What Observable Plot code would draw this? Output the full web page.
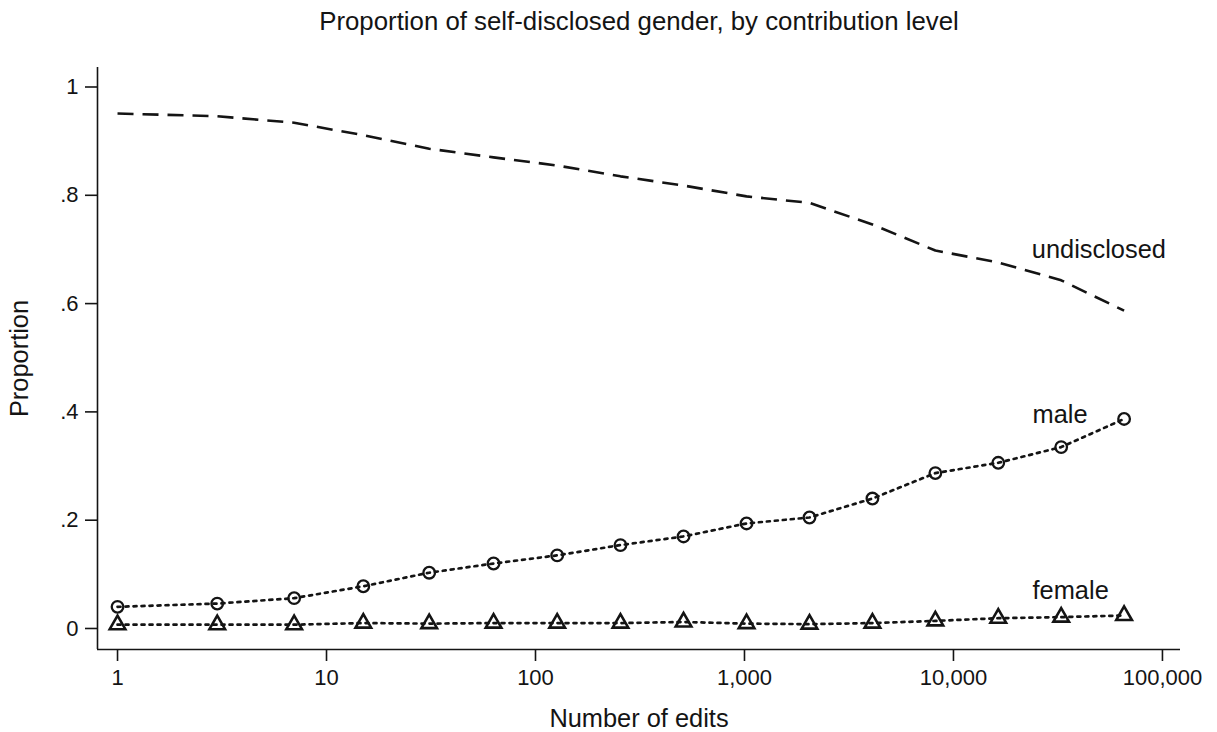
<!DOCTYPE html>
<html>
<head>
<meta charset="utf-8">
<script src="https://cdn.jsdelivr.net/npm/d3@7"></script>
<script src="https://cdn.jsdelivr.net/npm/@observablehq/plot@0.6"></script>
<style>
  html, body { margin: 0; padding: 0; background: #ffffff; }
  #chart svg { display: block; }
</style>
</head>
<body>
<div id="chart"></div>
<script>
// Contribution levels (number of edits, binned by powers of two)
const edits = [1, 3, 7, 15, 31, 63, 127, 255, 511, 1023, 2047, 4095, 8191, 16383, 32767, 65535];

// Share of editors at each level, by self-disclosed gender
const undisclosed = [0.951, 0.946, 0.934, 0.911, 0.886, 0.870, 0.855, 0.835, 0.818, 0.798, 0.786, 0.746, 0.698, 0.676, 0.643, 0.587];
const male        = [0.040, 0.046, 0.056, 0.078, 0.103, 0.120, 0.135, 0.154, 0.170, 0.194, 0.205, 0.240, 0.287, 0.306, 0.335, 0.387];
const female      = [0.007, 0.007, 0.007, 0.010, 0.009, 0.010, 0.010, 0.010, 0.012, 0.009, 0.008, 0.010, 0.014, 0.019, 0.021, 0.024];

// Axis ticks
const xTicks = [1, 10, 100, 1000, 10000, 100000];
const yTicks = [0, 0.2, 0.4, 0.6, 0.8, 1];

// Series name labels placed next to the right end of each curve
const seriesNames = ["undisclosed", "male", "female"];
const labelEdits = [23700, 23900, 23900];
const labelShare = [0.700, 0.395, 0.070];

const rows = (values) => edits.map((e, i) => ({edits: e, share: values[i]}));
const undisclosedRows = rows(undisclosed);
const maleRows = rows(male);
const femaleRows = rows(female);
const labels = seriesNames.map((name, i) => ({name, edits: labelEdits[i], share: labelShare[i]}));

const ink = "#141414";
const xDomain = [0.802, 122000];
const yDomain = [-0.0388, 1.036];
const textSize = 25.4;

const fmtY = d => d === 0 ? "0" : d === 1 ? "1" : d3.format(".1f")(d).replace(/^0/, "");

const chart = Plot.plot({
  width: 1217,
  height: 732,
  marginLeft: 97,
  marginRight: 37,
  marginTop: 67,
  marginBottom: 83,
  style: {fontFamily: "'Liberation Sans', Arial, sans-serif", fontSize: "22px", color: ink, background: "#ffffff"},
  x: {type: "log", domain: xDomain},
  y: {domain: yDomain},
  marks: [
    // axis lines (left and bottom only)
    Plot.ruleX([xDomain[0]], {stroke: ink, strokeWidth: 1.6}),
    Plot.ruleY([yDomain[0]], {stroke: ink, strokeWidth: 1.6}),
    Plot.axisX({ticks: xTicks, tickFormat: d3.format(","), tickSize: 12, tickPadding: 8, strokeWidth: 1.6, label: null}),
    Plot.axisY({ticks: yTicks, tickFormat: fmtY, tickSize: 12, tickPadding: 7, strokeWidth: 1.6, label: null}),

    // curves
    Plot.line(undisclosedRows, {x: "edits", y: "share", stroke: ink, strokeWidth: 2.6, strokeDasharray: "16,9", strokeLinecap: "butt"}),
    Plot.line(maleRows, {x: "edits", y: "share", stroke: ink, strokeWidth: 2.7, strokeDasharray: "3,5"}),
    Plot.line(femaleRows, {x: "edits", y: "share", stroke: ink, strokeWidth: 2.7, strokeDasharray: "3,5"}),
    Plot.dot(maleRows, {x: "edits", y: "share", r: 5.8, symbol: "circle", stroke: ink, strokeWidth: 2.3, fill: "none"}),
    Plot.dot(femaleRows, {x: "edits", y: "share", r: 5.8, symbol: "triangle", stroke: ink, strokeWidth: 2.6, fill: "none"}),

    // series names
    Plot.text(labels, {x: "edits", y: "share", text: "name", textAnchor: "start", lineAnchor: "middle", fontSize: textSize, fill: ink}),

    // titles
    Plot.text(["Proportion of self-disclosed gender, by contribution level"], {frameAnchor: "top", dy: -46, lineAnchor: "middle", textAnchor: "middle", fontSize: 25.8, fill: ink}),
    Plot.text(["Number of edits"], {frameAnchor: "bottom", dy: 69, lineAnchor: "middle", textAnchor: "middle", fontSize: textSize, fill: ink}),
    Plot.text(["Proportion"], {frameAnchor: "left", dx: -78, rotate: -90, lineAnchor: "middle", textAnchor: "middle", fontSize: textSize, fill: ink})
  ]
});

document.getElementById("chart").appendChild(chart);
</script>
</body>
</html>
